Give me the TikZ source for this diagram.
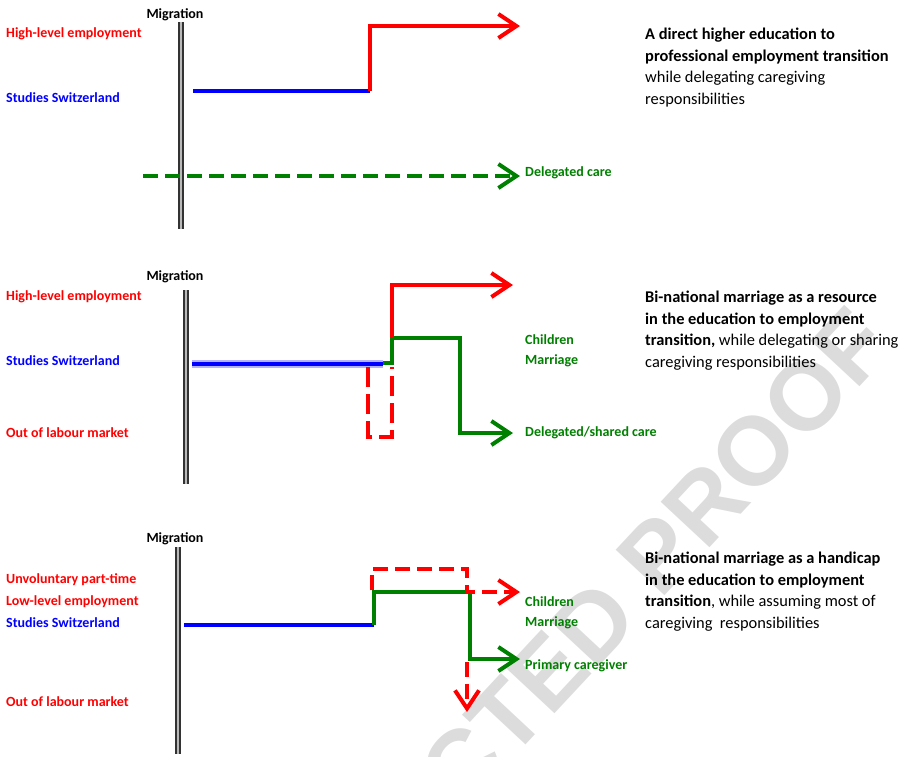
\documentclass[tikz,border=0pt]{standalone}
\usepackage{fontspec}
\setmainfont{Carlito}
\newfontfamily\stampfont{Liberation Sans}
\usetikzlibrary{arrows.meta}
\definecolor{pathred}{RGB}{255,0,0}
\definecolor{pathblue}{RGB}{0,0,255}
\definecolor{pathgreen}{RGB}{0,128,0}
\definecolor{stamp}{RGB}{220,220,220}

\begin{document}
\begin{tikzpicture}[x=1pt,y=-1pt,line join=miter,
  lab/.style={font=\bfseries\fontsize{14}{16}\selectfont,anchor=west,inner sep=0pt},
  note/.style={font=\fontsize{16.4}{21.5}\selectfont,anchor=north west,align=left,inner sep=0pt},
  migr/.style={draw=black!80,line width=2pt,double=gray!55,double distance=2pt},
  track/.style={line width=4pt},
  tip/.style={-{Straight Barb[length=18pt,width=24pt]}},
  dashtrack/.style={dash pattern=on 15pt off 7pt}]
  \useasboundingbox (0,0) rectangle (905,756);
  % watermark
  \begin{scope}
    \clip (0,0) rectangle (905,756);
    \node[stamp,rotate=47,anchor=east,inner sep=0pt,font=\stampfont\bfseries\fontsize{97}{97}\selectfont]
      (proof) at (872,325) {UNCORRECTED PROOF};
  \end{scope}
  % (a) direct transition
  \begin{scope}
    \node[lab,anchor=center,black] (mig1) at (175,15) {Migration};
    \draw[migr] (181,22) -- (181,229);
    \node[lab,pathred]  (hl1) at (6,34) {High-level employment};
    \node[lab,pathblue] (st1) at (6,98) {Studies Switzerland};
    \coordinate (a0) at (193,91);
    \coordinate (a1) at (370,91);
    \coordinate (a2) at (370,26);
    \coordinate (a3) at (520,26);
    \draw[track,pathblue] (a0) -- (a1);
    \draw[track,pathred,tip] (a1) -- (a2) -- (a3);
    \coordinate (c0) at (143,176);
    \coordinate (c1) at (520,176);
    \draw[track,pathgreen,dashtrack,tip] (c0) -- (c1);
    \node[lab,pathgreen] (dc1) at (525,173) {Delegated care};
    \node[note] (txt1) at (645,28)
      {\textbf{A direct higher education to}\\
       \textbf{professional employment transition}\\
       while delegating caregiving\\
       responsibilities};
  \end{scope}
  % (b) marriage as a resource
  \begin{scope}
    \node[lab,anchor=center,black] (mig2) at (175,277) {Migration};
    \draw[migr] (186,290) -- (186,484);
    \node[lab,pathred]  (hl2) at (6,297) {High-level employment};
    \node[lab,pathblue] (st2) at (6,361) {Studies Switzerland};
    \node[lab,pathred]  (ol2) at (6,433) {Out of labour market};
    \coordinate (b0) at (192,364);
    \coordinate (b1) at (383,364);
    \coordinate (g0) at (368,363);
    \coordinate (g1) at (392,363);
    \coordinate (g2) at (392,338);
    \coordinate (g3) at (460,338);
    \coordinate (g4) at (460,433);
    \coordinate (g5) at (513,433);
    \coordinate (r1) at (392,285);
    \coordinate (r2) at (513,285);
    \draw[track,pathgreen,tip] (g0) -- (g1) -- (g2) -- (g3) -- (g4) -- (g5);
    \draw[track,pathred,tip] (g2) -- (r1) -- (r2);
    \draw[line width=8pt,pathblue!30] (b0) -- (b1);
    \draw[track,pathblue] (b0) -- (b1);
    \coordinate (d0) at (368,367);
    \coordinate (d1) at (368,437);
    \coordinate (d2) at (392,437);
    \coordinate (d3) at (392,367);
    \draw[track,pathred,dash pattern=on 20pt off 7pt] (d0) -- (d1) -- (d2) -- (d3);
    \node[lab,pathgreen] (ch2) at (525,340) {Children};
    \node[lab,pathgreen] (ma2) at (525,361) {Marriage};
    \node[lab,pathgreen] (dc2) at (525,433) {Delegated/shared care};
    \node[note] (txt2) at (645,291)
      {\textbf{Bi-national marriage as a resource}\\
       \textbf{in the education to employment}\\
       \textbf{transition,} while delegating or sharing\\
       caregiving responsibilities};
  \end{scope}
  % (c) marriage as a handicap
  \begin{scope}
    \node[lab,anchor=center,black] (mig3) at (175,539) {Migration};
    \draw[migr] (178,547) -- (178,754);
    \node[lab,pathred]  (up3) at (6,580) {Unvoluntary part-time};
    \node[lab,pathred]  (ll3) at (6,602) {Low-level employment};
    \node[lab,pathblue] (st3) at (6,623) {Studies Switzerland};
    \node[lab,pathred]  (ol3) at (6,702) {Out of labour market};
    \coordinate (e0) at (184,625);
    \coordinate (e1) at (374,625);
    \coordinate (e2) at (374,592);
    \coordinate (e3) at (470,592);
    \coordinate (e4) at (470,659);
    \coordinate (e5) at (520,659);
    \draw[track,pathblue] (e0) -- (e1);
    \draw[track,pathgreen,tip] (e1) -- (e2) -- (e3) -- (e4) -- (e5);
    \coordinate (f0) at (372,590);
    \coordinate (f1) at (372,569);
    \coordinate (f2) at (467,569);
    \coordinate (f3) at (467,592);
    \coordinate (f4) at (520,592);
    \coordinate (f5) at (467,662);
    \coordinate (f6) at (467,712);
    \draw[track,pathred,dashtrack,tip] (f0) -- (f1) -- (f2) -- (f3) -- (f4);
    \draw[track,pathred,dashtrack,tip] (f5) -- (f6);
    \node[lab,pathgreen] (ch3) at (525,602) {Children};
    \node[lab,pathgreen] (ma3) at (525,623) {Marriage};
    \node[lab,pathgreen] (pc3) at (525,666) {Primary caregiver};
    \node[note] (txt3) at (645,552)
      {\textbf{Bi-national marriage as a handicap}\\
       \textbf{in the education to employment}\\
       \textbf{transition}, while assuming most of\\
       caregiving\ \ responsibilities};
  \end{scope}
\end{tikzpicture}
\end{document}
